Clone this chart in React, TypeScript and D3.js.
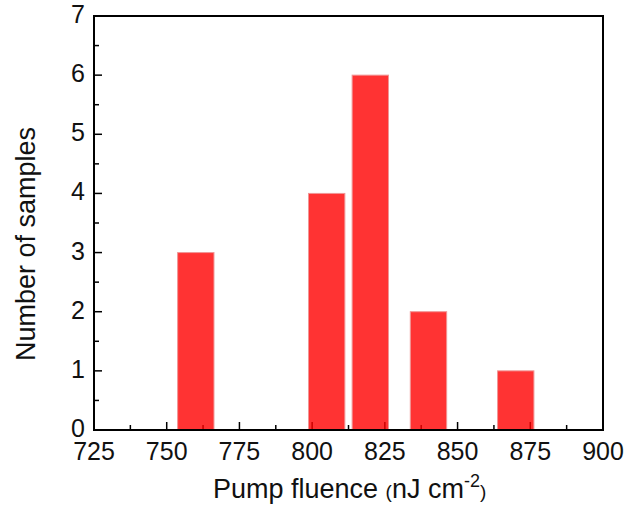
import React from "react";
import * as d3 from "d3";

const binCenters = [760, 805, 820, 840, 870];
const counts = [3, 4, 6, 2, 1];
const binWidth = 12.5;
const xTicks = [725, 750, 775, 800, 825, 850, 875, 900];
const yTicks = [0, 1, 2, 3, 4, 5, 6, 7];

const W = 630, H = 507;
const L = 94, R = 603, T = 16, B = 430;

export default function App() {
  const x = d3.scaleLinear().domain([725, 900]).range([L, R]);
  const y = d3.scaleLinear().domain([0, 7]).range([B, T]);
  const xMinor = d3.range(737.5, 900, 25);
  const yMinor = d3.range(0.5, 7, 1);
  const font = "Arial, 'Liberation Sans', Helvetica, sans-serif";
  return (
    <svg width={W} height={H} style={{ position: "absolute", left: 0, top: 0, background: "#fff" }}>
      <rect x={0} y={0} width={W} height={H} fill="#fff" />
      {/* ticks */}
      <g stroke="#000" strokeWidth={1.5}>
        {xTicks.map((t) => (
          <line key={"xt" + t} x1={x(t)} x2={x(t)} y1={B} y2={B - 8} />
        ))}
        {xMinor.map((t) => (
          <line key={"xm" + t} x1={x(t)} x2={x(t)} y1={B} y2={B - 5} />
        ))}
        {yTicks.map((t) => (
          <line key={"yt" + t} x1={L} x2={L + 8} y1={y(t)} y2={y(t)} />
        ))}
        {yMinor.map((t) => (
          <line key={"ym" + t} x1={L} x2={L + 5} y1={y(t)} y2={y(t)} />
        ))}
      </g>
      {/* bars */}
      <g>
        {binCenters.map((c, i) => (
          <rect
            key={"b" + i}
            x={x(c - binWidth / 2)}
            y={y(counts[i])}
            width={x(c + binWidth / 2) - x(c - binWidth / 2)}
            height={y(0) - y(counts[i])}
            fill="rgb(255,0,0)"
            fillOpacity={0.8}
            stroke="rgb(240,150,150)"
            strokeWidth={1}
          />
        ))}
      </g>
      {/* frame */}
      <rect x={L} y={T} width={R - L} height={B - T} fill="none" stroke="#000" strokeWidth={2} />
      {/* tick labels */}
      <g fontFamily={font} fontSize={25} fill="#111">
        {xTicks.map((t) => (
          <text key={"xl" + t} x={x(t)} y={460} textAnchor="middle">
            {t}
          </text>
        ))}
        {yTicks.map((t) => (
          <text key={"yl" + t} x={85} y={y(t) - 2} textAnchor="end" dominantBaseline="central">
            {t}
          </text>
        ))}
      </g>
      {/* axis titles */}
      <text x={213} y={498} fontFamily={font} fontSize={27} fill="#111">
        Pump fluence <tspan fontSize={19}>(</tspan>
        <tspan>nJ cm</tspan>
        <tspan fontSize={18} dy={-11}>-2</tspan>
        <tspan fontSize={19} dy={11}>)</tspan>
      </text>
      <text
        transform={`translate(35, 244) rotate(-90)`}
        textAnchor="middle"
        fontFamily={font}
        fontSize={27}
        fill="#111"
      >
        Number of samples
      </text>
    </svg>
  );
}
